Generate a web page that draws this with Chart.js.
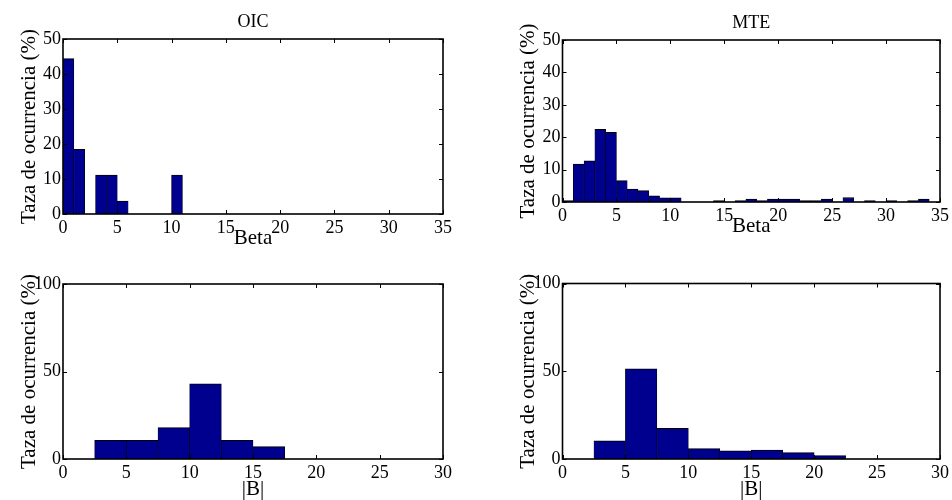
<!DOCTYPE html>
<html>
<head>
<meta charset="utf-8">
<script src="https://cdn.jsdelivr.net/npm/chart.js@4/dist/chart.umd.min.js"></script>
<style>
  html, body { margin: 0; padding: 0; background: #fff; }
  #fig { position: relative; width: 952px; height: 500px; overflow: hidden; background: #fff; }
  #fig canvas { position: absolute; }
</style>
</head>
<body>
<div id="fig">
  <canvas id="oicBetaCanvas" width="476" height="250" style="left:0;top:0"></canvas>
  <canvas id="mteBetaCanvas" width="476" height="250" style="left:476px;top:0"></canvas>
  <canvas id="oicBCanvas" width="476" height="250" style="left:0;top:250px"></canvas>
  <canvas id="mteBCanvas" width="476" height="250" style="left:476px;top:250px"></canvas>
</div>
<script>
// Histogram bin centres (Beta: unit-wide bins, |B|: 2.5-wide bins)
const betaCentersOIC = [0.5, 1.5, 2.5, 3.5, 4.5, 5.5, 6.5, 7.5, 8.5, 9.5, 10.5];
const betaCentersMTE = [0.5, 1.5, 2.5, 3.5, 4.5, 5.5, 6.5, 7.5, 8.5, 9.5, 10.5, 11.5,
  12.5, 13.5, 14.5, 15.5, 16.5, 17.5, 18.5, 19.5, 20.5, 21.5, 22.5, 23.5, 24.5,
  25.5, 26.5, 27.5, 28.5, 29.5, 30.5, 31.5, 32.5, 33.5];
const bCenters = [1.25, 3.75, 6.25, 8.75, 11.25, 13.75, 16.25, 18.75, 21.25];

// Occurrence rate (%) per bin
const oicBetaRate = [44.4, 18.5, 0, 11.1, 11.1, 3.7, 0, 0, 0, 0, 11.1];
const mteBetaRate = [0.4, 11.7, 12.7, 22.4, 21.5, 6.6, 4.0, 3.5, 1.9, 1.3, 1.3, 0,
  0, 0, 0.4, 0, 0.4, 0.9, 0.4, 0.9, 0.9, 0.9, 0.4, 0.4, 0.9,
  0, 1.4, 0, 0.4, 0, 0.4, 0, 0.4, 0.9];
const oicBRate = [0, 10.7, 10.7, 17.9, 42.9, 10.7, 7.1, 0, 0];
const mteBRate = [0, 10.4, 51.4, 17.5, 5.9, 4.7, 5.1, 3.6, 1.9];

// Axis ticks
const betaTicks = [0, 5, 10, 15, 20, 25, 30, 35];
const bTicks = [0, 5, 10, 15, 20, 25, 30];
const betaRateTicks = [0, 10, 20, 30, 40, 50];
const bRateTicks = [0, 50, 100];

const panelTitles = ['OIC', 'MTE'];
const yLabel = 'Taza de ocurrencia (%)';
const xLabels = ['Beta', '|B|'];

const FONT = '"Liberation Serif", "Times New Roman", Times, serif';
const BAR_FILL = '#00008F';

// Box frame, inward tick marks on all four sides, and the panel title
const framePlugin = {
  id: 'frame',
  afterDatasetsDraw(chart) {
    const { ctx, chartArea: a, scales } = chart;
    ctx.save();
    ctx.strokeStyle = '#000';
    ctx.lineWidth = 1;
    const tl = 4;
    ctx.beginPath();
    scales.x.ticks.forEach(t => {
      const px = Math.round(scales.x.getPixelForValue(t.value)) + 0.5;
      ctx.moveTo(px, a.bottom); ctx.lineTo(px, a.bottom - tl);
      ctx.moveTo(px, a.top); ctx.lineTo(px, a.top + tl);
    });
    scales.y.ticks.forEach(t => {
      const py = Math.round(scales.y.getPixelForValue(t.value)) + 0.5;
      ctx.moveTo(a.left, py); ctx.lineTo(a.left + tl, py);
      ctx.moveTo(a.right, py); ctx.lineTo(a.right - tl, py);
    });
    ctx.stroke();
    ctx.lineWidth = 1.6;
    ctx.strokeRect(a.left, a.top, a.right - a.left, a.bottom - a.top);
    ctx.restore();
  },
  afterDraw(chart, args, opts) {
    if (!opts.text) return;
    const { ctx, chartArea: a } = chart;
    ctx.save();
    ctx.fillStyle = '#000';
    ctx.font = '18px ' + FONT;
    ctx.textAlign = 'center';
    ctx.textBaseline = 'alphabetic';
    ctx.fillText(opts.text, (a.left + a.right) / 2, a.top - 12.5);
    ctx.restore();
  }
};

function makePanel(id, p) {
  const canvas = document.getElementById(id);
  const W = canvas.width, H = canvas.height;
  return new Chart(canvas, {
    type: 'bar',
    data: {
      datasets: [{
        data: p.centers.map((c, i) => ({ x: c, y: p.values[i] })),
        backgroundColor: BAR_FILL,
        borderColor: '#000',
        borderWidth: { top: 1, left: 0.6, right: 0.6, bottom: 0 },
        borderSkipped: false,
        barPercentage: 1,
        categoryPercentage: 1,
        grouped: false
      }]
    },
    options: {
      responsive: false,
      animation: false,
      devicePixelRatio: 1,
      layout: { padding: { left: 0, top: p.area.top, right: W - p.area.right, bottom: 0 } },
      plugins: {
        legend: { display: false },
        tooltip: { enabled: false },
        frame: { text: p.title }
      },
      scales: {
        x: {
          type: 'linear',
          min: p.xTicks[0],
          max: p.xTicks[p.xTicks.length - 1],
          offset: false,
          grid: { display: false, drawTicks: false },
          border: { display: false },
          afterBuildTicks(s) { s.ticks = p.xTicks.map(v => ({ value: v })); },
          afterFit(s) { s.height = H - p.area.bottom; },
          ticks: {
            color: '#000', padding: 3, maxRotation: 0, autoSkip: false,
            font: { family: FONT, size: 18 }
          },
          title: {
            display: true, text: p.xLabel, color: '#000',
            font: { family: FONT, size: 21, lineHeight: 1 },
            padding: { top: 0, bottom: p.xTitlePad }
          }
        },
        y: {
          type: 'linear',
          min: p.yTicks[0],
          max: p.yTicks[p.yTicks.length - 1],
          grid: { display: false, drawTicks: false },
          border: { display: false },
          afterBuildTicks(s) { s.ticks = p.yTicks.map(v => ({ value: v })); },
          afterFit(s) { s.width = p.area.left; },
          ticks: {
            color: '#000', padding: 2,
            font: { family: FONT, size: 18 }
          },
          title: {
            display: true, text: yLabel, color: '#000',
            font: { family: FONT, size: 21, lineHeight: 1 },
            padding: { top: p.yTitlePad, bottom: 0 }
          }
        }
      }
    },
    plugins: [framePlugin]
  });
}

makePanel('oicBetaCanvas', {
  title: panelTitles[0], xLabel: xLabels[0],
  centers: betaCentersOIC, values: oicBetaRate,
  xTicks: betaTicks, yTicks: betaRateTicks,
  area: { left: 63, top: 39, right: 443, bottom: 214 },
  xTitlePad: 1, yTitlePad: 19
});
makePanel('mteBetaCanvas', {
  title: panelTitles[1], xLabel: xLabels[0],
  centers: betaCentersMTE, values: mteBetaRate,
  xTicks: betaTicks, yTicks: betaRateTicks,
  area: { left: 86.5, top: 40, right: 466.5, bottom: 202 },
  xTitlePad: 13, yTitlePad: 42
});
makePanel('oicBCanvas', {
  title: '', xLabel: xLabels[1],
  centers: bCenters, values: oicBRate,
  xTicks: bTicks, yTicks: bRateTicks,
  area: { left: 63, top: 34, right: 443, bottom: 209 },
  xTitlePad: 0, yTitlePad: 19
});
makePanel('mteBCanvas', {
  title: '', xLabel: xLabels[1],
  centers: bCenters, values: mteBRate,
  xTicks: bTicks, yTicks: bRateTicks,
  area: { left: 86.5, top: 33.5, right: 466.5, bottom: 209 },
  xTitlePad: 0, yTitlePad: 42
});
</script>
</body>
</html>
